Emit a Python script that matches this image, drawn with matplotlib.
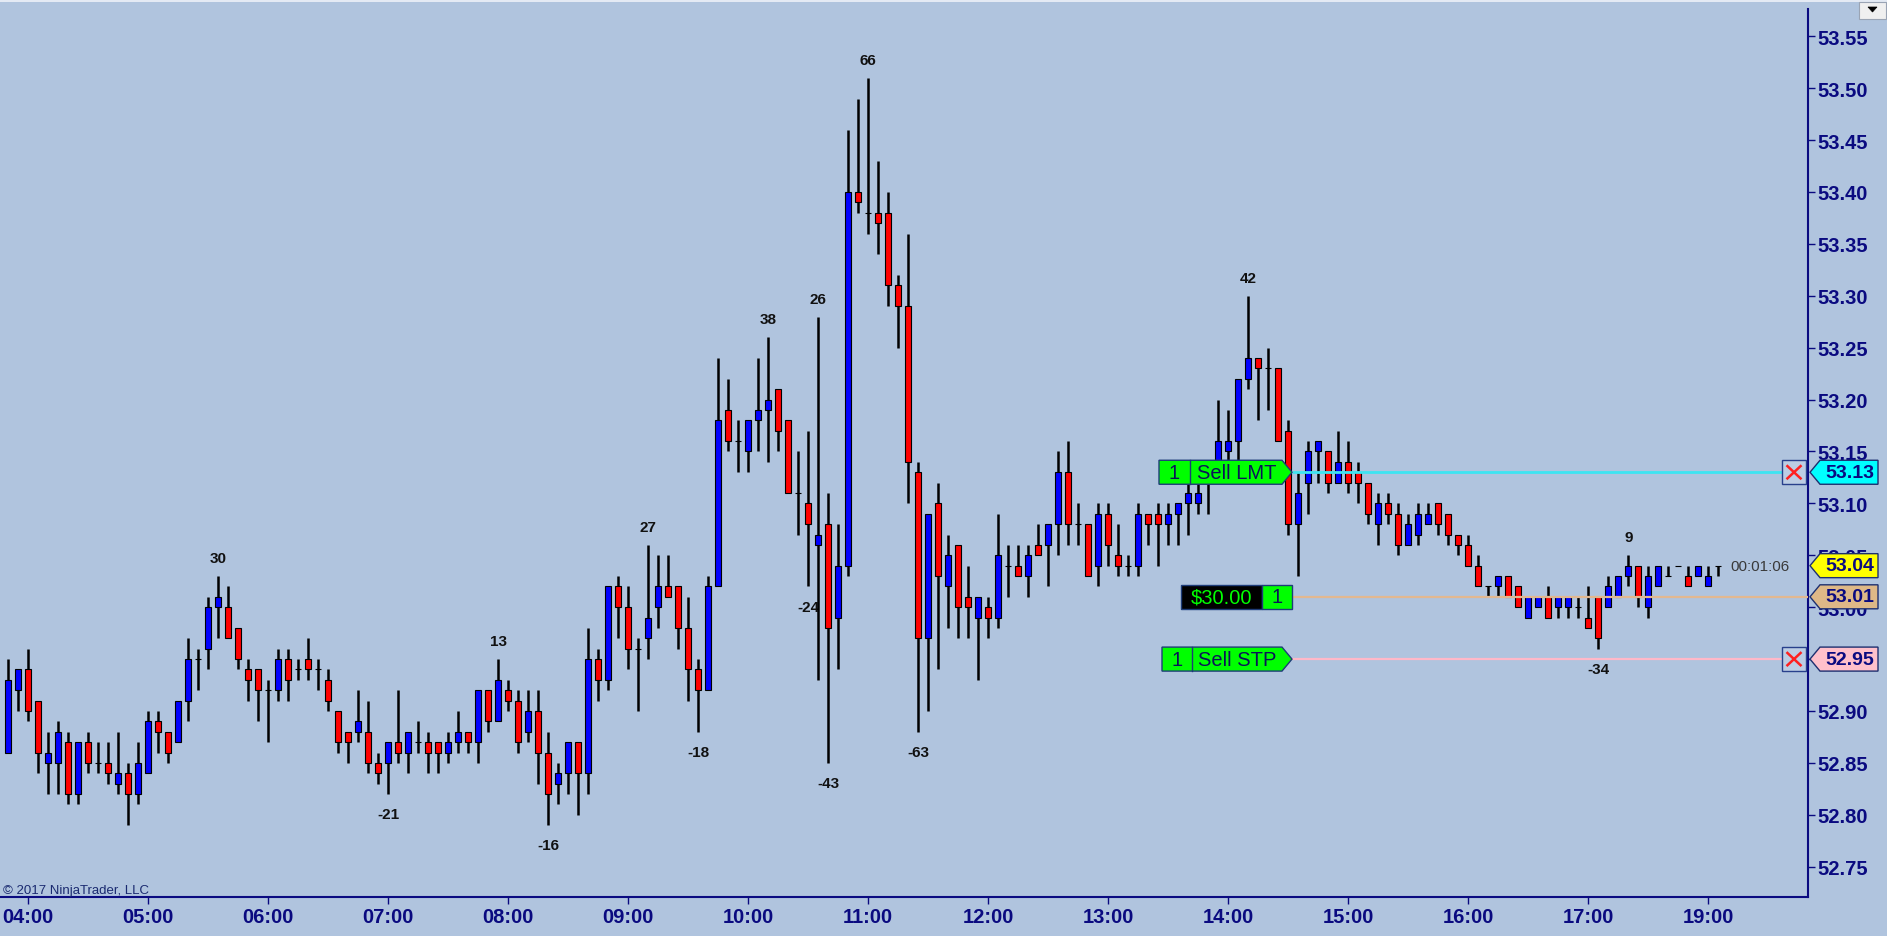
import matplotlib
matplotlib.use("Agg")
import matplotlib.pyplot as plt
from matplotlib.patches import Polygon, Rectangle
import numpy as np
import pandas as pd

# ---------------- data ----------------
opens = [52.86, 52.92, 52.94, 52.91, 52.85, 52.85, 52.87, 52.82, 52.87, 52.85,
         52.85, 52.83, 52.84, 52.82, 52.84, 52.89, 52.88, 52.87, 52.91, 52.95,
         52.96, 53.00, 53.00, 52.98, 52.94, 52.94, 52.92, 52.92, 52.95, 52.94,
         52.95, 52.94, 52.93, 52.90, 52.88, 52.88, 52.88, 52.85, 52.85, 52.87,
         52.86, 52.87, 52.87, 52.87, 52.86, 52.87, 52.88, 52.87, 52.92, 52.89,
         52.92, 52.91, 52.88, 52.90, 52.86, 52.83, 52.84, 52.87, 52.84, 52.95,
         52.93, 53.02, 53.00, 52.96, 52.97, 53.00, 53.02, 53.02, 52.98, 52.94,
         52.92, 53.02, 53.19, 53.16, 53.15, 53.18, 53.19, 53.21, 53.18, 53.11,
         53.10, 53.06, 53.08, 52.99, 53.04, 53.40, 53.38, 53.38, 53.38, 53.31,
         53.29, 53.13, 52.97, 53.10, 53.02, 53.06, 53.01, 52.99, 53.00, 52.99,
         53.04, 53.04, 53.03, 53.06, 53.06, 53.08, 53.13, 53.08, 53.08, 53.04,
         53.09, 53.05, 53.04, 53.04, 53.09, 53.09, 53.08, 53.09, 53.10, 53.10,
         53.12, 53.14, 53.15, 53.16, 53.22, 53.24, 53.23, 53.23, 53.17, 53.08,
         53.12, 53.15, 53.15, 53.12, 53.14, 53.13, 53.12, 53.08, 53.10, 53.09,
         53.06, 53.07, 53.08, 53.10, 53.09, 53.07, 53.06, 53.04, 53.02, 53.02,
         53.03, 53.02, 52.99, 53.00, 53.01, 53.00, 53.00, 53.00, 52.99, 53.01,
         53.00, 53.01, 53.03, 53.04, 53.00, 53.02, 53.03, 53.04, 53.03, 53.03,
         53.02, 53.04]
highs = [52.95, 52.94, 52.96, 52.91, 52.88, 52.89, 52.88, 52.87, 52.88, 52.87,
         52.87, 52.88, 52.85, 52.87, 52.90, 52.90, 52.88, 52.91, 52.97, 52.96,
         53.01, 53.03, 53.02, 52.98, 52.95, 52.94, 52.93, 52.96, 52.96, 52.95,
         52.97, 52.95, 52.94, 52.90, 52.88, 52.92, 52.91, 52.86, 52.87, 52.92,
         52.88, 52.89, 52.88, 52.87, 52.88, 52.90, 52.88, 52.92, 52.92, 52.95,
         52.93, 52.92, 52.92, 52.92, 52.88, 52.85, 52.87, 52.87, 52.98, 52.96,
         53.02, 53.03, 53.02, 52.97, 53.06, 53.05, 53.05, 53.02, 53.01, 52.95,
         53.03, 53.24, 53.22, 53.18, 53.18, 53.24, 53.26, 53.21, 53.18, 53.15,
         53.17, 53.28, 53.11, 53.08, 53.46, 53.49, 53.51, 53.43, 53.40, 53.32,
         53.36, 53.14, 53.09, 53.12, 53.07, 53.06, 53.04, 53.01, 53.01, 53.09,
         53.06, 53.06, 53.06, 53.08, 53.08, 53.15, 53.16, 53.10, 53.08, 53.10,
         53.10, 53.08, 53.05, 53.10, 53.09, 53.10, 53.10, 53.10, 53.12, 53.12,
         53.13, 53.20, 53.19, 53.22, 53.30, 53.24, 53.25, 53.23, 53.18, 53.13,
         53.16, 53.16, 53.15, 53.17, 53.16, 53.14, 53.12, 53.11, 53.11, 53.10,
         53.09, 53.10, 53.10, 53.10, 53.09, 53.07, 53.07, 53.05, 53.02, 53.03,
         53.03, 53.02, 53.01, 53.01, 53.02, 53.01, 53.01, 53.01, 53.02, 53.01,
         53.03, 53.03, 53.05, 53.04, 53.04, 53.04, 53.04, 53.04, 53.04, 53.04,
         53.04, 53.04]
lows = [52.86, 52.90, 52.89, 52.84, 52.82, 52.82, 52.81, 52.81, 52.84, 52.84,
        52.83, 52.82, 52.79, 52.81, 52.84, 52.86, 52.85, 52.87, 52.89, 52.92,
        52.94, 52.97, 52.97, 52.94, 52.91, 52.89, 52.87, 52.91, 52.91, 52.93,
        52.93, 52.92, 52.90, 52.86, 52.85, 52.87, 52.84, 52.83, 52.82, 52.85,
        52.84, 52.86, 52.84, 52.84, 52.85, 52.86, 52.86, 52.85, 52.88, 52.89,
        52.90, 52.86, 52.87, 52.83, 52.79, 52.81, 52.82, 52.80, 52.82, 52.91,
        52.92, 52.97, 52.94, 52.90, 52.95, 52.98, 53.01, 52.96, 52.91, 52.88,
        52.92, 53.02, 53.15, 53.13, 53.13, 53.15, 53.14, 53.15, 53.11, 53.07,
        53.02, 52.93, 52.85, 52.94, 53.03, 53.38, 53.36, 53.34, 53.29, 53.25,
        53.10, 52.88, 52.90, 52.94, 52.98, 52.97, 52.97, 52.93, 52.97, 52.98,
        53.01, 53.03, 53.01, 53.05, 53.02, 53.05, 53.06, 53.06, 53.03, 53.02,
        53.04, 53.03, 53.03, 53.03, 53.06, 53.04, 53.06, 53.06, 53.07, 53.09,
        53.09, 53.13, 53.13, 53.14, 53.21, 53.18, 53.19, 53.16, 53.07, 53.03,
        53.09, 53.12, 53.11, 53.12, 53.11, 53.10, 53.08, 53.06, 53.08, 53.05,
        53.06, 53.06, 53.08, 53.07, 53.06, 53.05, 53.04, 53.02, 53.01, 53.01,
        53.01, 53.00, 52.99, 53.00, 52.99, 52.99, 52.99, 52.99, 52.98, 52.96,
        53.00, 53.01, 53.02, 53.00, 52.99, 53.02, 53.03, 53.04, 53.02, 53.03,
        53.02, 53.03]
closes = [52.93, 52.94, 52.90, 52.86, 52.86, 52.88, 52.82, 52.87, 52.85, 52.85,
          52.84, 52.84, 52.82, 52.85, 52.89, 52.88, 52.86, 52.91, 52.95, 52.95,
          53.00, 53.01, 52.97, 52.95, 52.93, 52.92, 52.92, 52.95, 52.93, 52.94,
          52.94, 52.94, 52.91, 52.87, 52.87, 52.89, 52.85, 52.84, 52.87, 52.86,
          52.88, 52.87, 52.86, 52.86, 52.87, 52.88, 52.87, 52.92, 52.89, 52.93,
          52.91, 52.87, 52.90, 52.86, 52.82, 52.84, 52.87, 52.84, 52.95, 52.93,
          53.02, 53.00, 52.96, 52.96, 52.99, 53.02, 53.01, 52.98, 52.94, 52.92,
          53.02, 53.18, 53.16, 53.16, 53.18, 53.19, 53.20, 53.17, 53.11, 53.11,
          53.08, 53.07, 52.98, 53.04, 53.40, 53.39, 53.38, 53.37, 53.31, 53.29,
          53.14, 52.97, 53.09, 53.03, 53.05, 53.00, 53.00, 53.01, 52.99, 53.05,
          53.04, 53.03, 53.05, 53.05, 53.08, 53.13, 53.08, 53.08, 53.03, 53.09,
          53.06, 53.04, 53.04, 53.09, 53.08, 53.08, 53.09, 53.10, 53.11, 53.11,
          53.12, 53.16, 53.16, 53.22, 53.24, 53.23, 53.23, 53.16, 53.08, 53.11,
          53.15, 53.16, 53.12, 53.14, 53.12, 53.12, 53.09, 53.10, 53.09, 53.06,
          53.08, 53.09, 53.09, 53.08, 53.07, 53.06, 53.04, 53.02, 53.02, 53.03,
          53.01, 53.00, 53.01, 53.01, 52.99, 53.01, 53.01, 53.00, 52.98, 52.97,
          53.02, 53.03, 53.04, 53.01, 53.03, 53.04, 53.03, 53.04, 53.02, 53.04,
          53.03, 53.04]

# bar times: 5-minute bars, session break after 17:00, resuming with 18:05 bar
session1 = pd.date_range("2017-01-01 03:50", "2017-01-01 17:00", freq="5min")
session2 = pd.date_range("2017-01-01 18:05", "2017-01-01 19:05", freq="5min")
bar_times = list(session1) + list(session2)

swing_idx = [21, 38, 49, 54, 64, 69, 76, 80, 81, 82, 86, 91, 124, 159, 162]
swing_txt = ["30", "-21", "13", "-16", "27", "-18", "38", "-24", "26", "-43",
             "66", "-63", "42", "-34", "9"]

y_ticks = [52.75, 52.80, 52.85, 52.90, 52.95, 53.00, 53.05, 53.10, 53.15,
           53.20, 53.25, 53.30, 53.35, 53.40, 53.45, 53.50, 53.55]

sell_lmt_price = 53.13
position_price = 53.01
sell_stp_price = 52.95
last_price = 53.04
pnl_text = "$30.00"
order_qty = "1"
timer_text = "00:01:06"

# ---------------- style ----------------
plt.rcParams['font.family'] = ['Liberation Sans', 'DejaVu Sans']
BG = '#B0C4DE'
NAVY = '#0A0A80'
TXT = '#0A1458'

W, H = 1887, 937
fig = plt.figure(figsize=(W / 100, H / 100), dpi=100)
fig.patch.set_facecolor(BG)
ax_left, ax_right, ax_bottom, ax_top = 0, 1808, 898, 10
ax = fig.add_axes([ax_left / W, (H - ax_bottom) / H, (ax_right - ax_left) / W,
                   (ax_bottom - ax_top) / H])
ax.set_facecolor(BG)

n = len(opens)
idx = np.arange(n)
o = np.array(opens); h = np.array(highs); l = np.array(lows); c = np.array(closes)

ax.set_xlim(-0.83, 179.97)
ax.set_ylim(52.7208, 53.5763)
PXY = (53.5763 - 52.7208) / (ax_bottom - ax_top)  # data per pixel (y)

# candles
ax.vlines(idx, l, h, color='black', linewidth=1.8, zorder=3)
cols = ['#0000FF' if cc > oo else '#FF0000' for oo, cc in zip(o, c)]
ax.bar(idx, np.abs(c - o), bottom=np.minimum(o, c), width=0.62, color=cols,
       edgecolor='black', linewidth=0.8, zorder=4)

# swing labels
for i, t in zip(swing_idx, swing_txt):
    if t.startswith('-'):
        ax.annotate(t, (i, l[i]), xytext=(0, -14.5), textcoords='offset points',
                    ha='center', va='center', fontsize=11, fontweight='bold',
                    color='#111111', zorder=2)
    else:
        ax.annotate(t, (i, h[i]), xytext=(0, 13), textcoords='offset points',
                    ha='center', va='center', fontsize=11, fontweight='bold',
                    color='#111111', zorder=2)

# axes styling
for s in ['top', 'left']:
    ax.spines[s].set_visible(False)
ax.spines['bottom'].set_color(NAVY)
ax.spines['right'].set_color(NAVY)
ax.spines['bottom'].set_linewidth(1.5)
ax.spines['right'].set_linewidth(1.5)
ax.yaxis.tick_right()
ax.set_yticks(y_ticks)
ax.set_yticklabels([f"{v:.2f}" for v in y_ticks])
tick_pos = [i for i, t in enumerate(bar_times) if t.minute == 0]
tick_lab = [bar_times[i].strftime("%H:%M") for i in tick_pos]
ax.set_xticks(tick_pos)
ax.set_xticklabels(tick_lab)
ax.tick_params(axis='y', direction='out', length=5, width=1, color=NAVY,
               labelcolor=NAVY, labelsize=14.5, pad=1.5)
ax.tick_params(axis='x', direction='out', length=5, width=1, color=NAVY,
               labelcolor=NAVY, labelsize=14.5, pad=2)
for lab in ax.get_xticklabels() + ax.get_yticklabels():
    lab.set_fontweight('bold')

# ---------------- order / position lines ----------------
hh = 12 * PXY
tip_x = 128.37
xbox_l = 177.37
xbox_r = 179.77
ax.hlines(sell_lmt_price, tip_x, xbox_l, color='#3EE4F2', linewidth=2.0, zorder=5)
ax.hlines(position_price, tip_x, 179.97, color='#E2B890', linewidth=1.6, zorder=5)
ax.hlines(sell_stp_price, tip_x, xbox_l, color='#FFB8C8', linewidth=1.6, zorder=5)

def order_tag(y, left, div, label):
    poly = Polygon([(left, y - hh), (tip_x - 1.0, y - hh), (tip_x, y),
                    (tip_x - 1.0, y + hh), (left, y + hh)], closed=True,
                   facecolor='#00FF00', edgecolor='#1E3C78', linewidth=1, zorder=6)
    ax.add_patch(poly)
    ax.plot([div, div], [y - hh, y + hh], color='#1E3C78', linewidth=1, zorder=7)
    ax.text((left + div) / 2, y, order_qty, ha='center', va='center',
            fontsize=14.5, color=TXT, zorder=8)
    ax.text((div + tip_x - 1.0) / 2 + 0.05, y, label, ha='center', va='center',
            fontsize=14.5, color=TXT, zorder=8)

order_tag(sell_lmt_price, 115.07, 118.17, "Sell LMT")
order_tag(sell_stp_price, 115.37, 118.37, "Sell STP")

# position tag
pl, pdv, pr = 117.24, 125.37, 128.37
ax.add_patch(Rectangle((pl, position_price - hh), pdv - pl, 2 * hh,
                       facecolor='black', edgecolor='#1E3C78', linewidth=1, zorder=6))
ax.add_patch(Rectangle((pdv, position_price - hh), pr - pdv, 2 * hh,
                       facecolor='#00FF00', edgecolor='#1E3C78', linewidth=1, zorder=6))
ax.text((pl + pdv) / 2, position_price, pnl_text, ha='center', va='center',
        fontsize=14.5, color='#00FF00', zorder=8)
ax.text((pdv + pr) / 2, position_price, order_qty, ha='center', va='center',
        fontsize=14.5, color=TXT, zorder=8)

# cancel boxes
for yy in (sell_lmt_price, sell_stp_price):
    ax.add_patch(Rectangle((xbox_l, yy - hh), xbox_r - xbox_l, 2 * hh,
                           facecolor='#BCCDE4', edgecolor='#28408C', linewidth=1,
                           zorder=6))
    mx, my = 0.45, 7 * PXY
    ax.plot([xbox_l + mx, xbox_r - mx], [yy - my, yy + my], color='#FF2020',
            linewidth=1.8, zorder=7, solid_capstyle='butt')
    ax.plot([xbox_l + mx, xbox_r - mx], [yy + my, yy - my], color='#FF2020',
            linewidth=1.8, zorder=7, solid_capstyle='butt')

# right-hand price markers (drawn over the axis labels they cover)
mk_tip, mk_l, mk_r = 180.17, 181.17, 186.97
markers = [(sell_lmt_price, '#00FFFF'), (last_price, '#FFFF00'),
           (position_price, '#DEB887'), (sell_stp_price, '#FFC0CB')]
for yy, fc in markers:
    poly = Polygon([(mk_tip, yy), (mk_l, yy + hh), (mk_r, yy + hh),
                    (mk_r, yy - hh), (mk_l, yy - hh)], closed=True,
                   facecolor=fc, edgecolor='#1E3070', linewidth=1, zorder=10,
                   clip_on=False)
    ax.add_patch(poly)
    ax.text((mk_l + mk_r) / 2 + 0.05, yy, f"{yy:.2f}", ha='center', va='center',
            fontsize=14, fontweight='bold', color=NAVY, zorder=11, clip_on=False)

# bar timer
ax.text(172.17, last_price, timer_text, ha='left', va='center', fontsize=11,
        color='#3A3A3A', zorder=6)

# copyright
fig.text(3 / W, (H - 891) / H, "\u00a9 2017 NinjaTrader, LLC", ha='left',
         va='center', fontsize=9.5, color='#1A2A70')

# top border strip and dropdown button
fig.add_artist(Rectangle((0, 1 - 2.5 / H), 1, 2.5 / H, transform=fig.transFigure,
                         facecolor='#E4EAF4', edgecolor='none'))
fig.add_artist(Rectangle((1859 / W, 1 - 20 / H), 27 / W, 17 / H,
                         transform=fig.transFigure, facecolor='#F0F0F0',
                         edgecolor='#9AA4B4', linewidth=0.8))
fig.add_artist(Polygon([(1868 / W, 1 - 8 / H), (1877 / W, 1 - 8 / H),
                        (1872.5 / W, 1 - 13 / H)], closed=True,
                       transform=fig.transFigure, facecolor='black',
                       edgecolor='black', linewidth=0.5))

fig.savefig('out.png', dpi=100, facecolor=fig.get_facecolor())
